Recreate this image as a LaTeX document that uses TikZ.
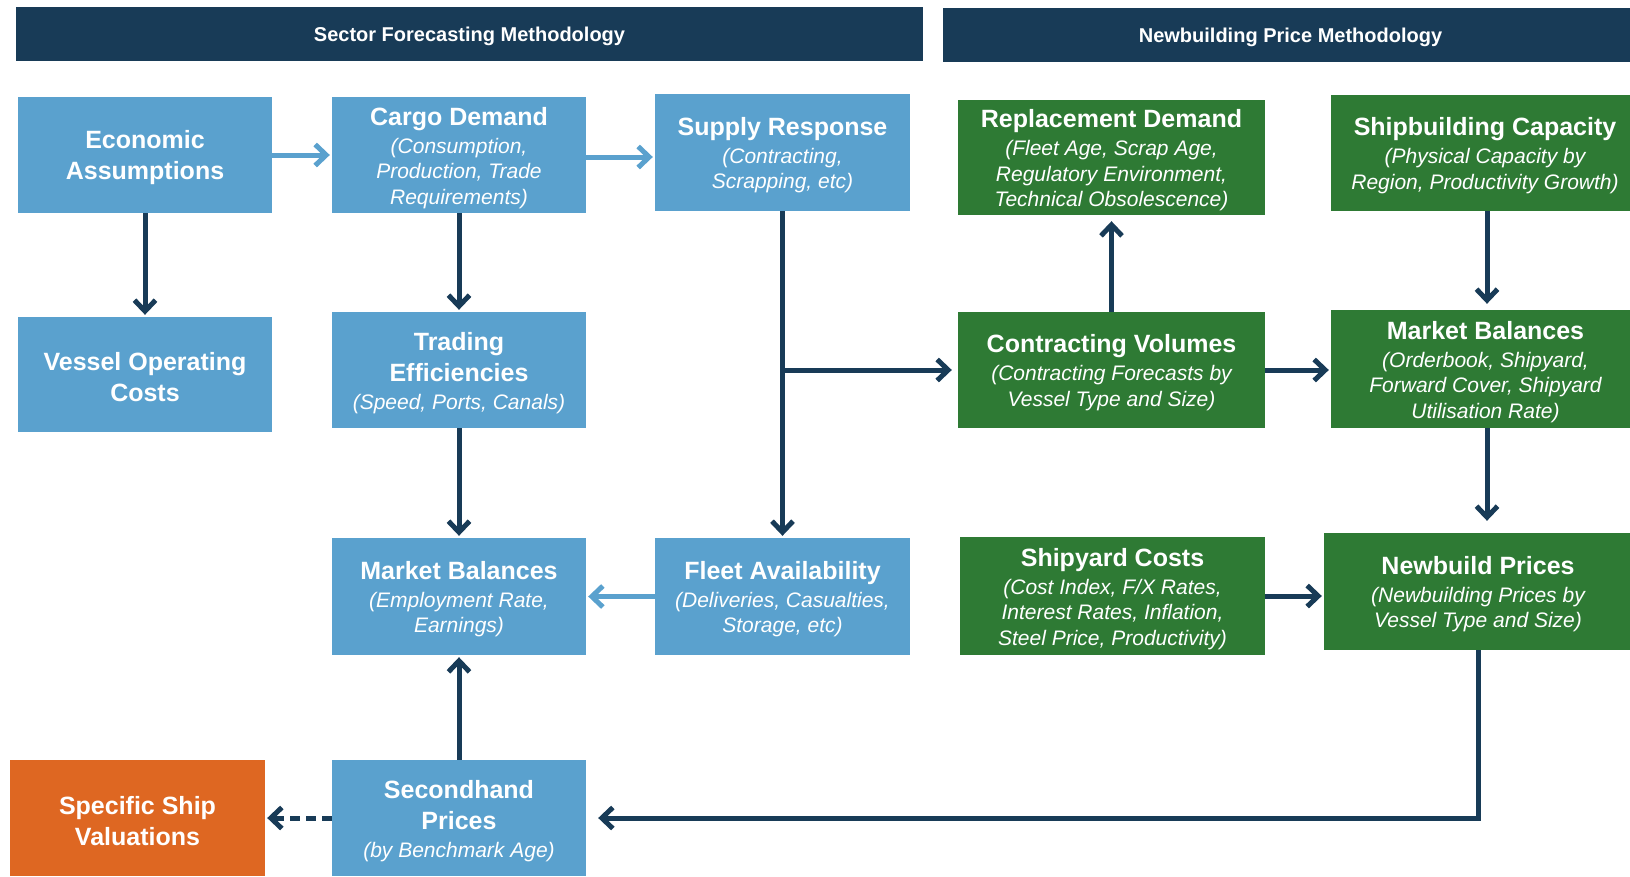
\documentclass[tikz,border=0pt]{standalone}
\usepackage{fontspec}
\setmainfont{Liberation Sans}
\usetikzlibrary{arrows.meta,calc}
\definecolor{navy}{RGB}{24,59,87}
\definecolor{lblue}{RGB}{90,161,206}
\definecolor{dgreen}{RGB}{46,122,52}
\definecolor{orng}{RGB}{222,103,34}
\newcommand\ttl[1]{{\fontsize{25}{30}\selectfont\bfseries #1}}
\newcommand\ftl[1]{{\fontsize{25}{30}\selectfont\bfseries\rule{0pt}{23.5pt}#1}}
\newcommand\sbt[1]{{\fontsize{21}{25.5}\selectfont\itshape #1}}
\begin{document}
\begin{tikzpicture}[x=1pt,y=-1pt,
  box/.style={rectangle, inner sep=0pt, text=white, align=center,
    font=\fontsize{21}{25.5}\selectfont, minimum height=116pt},
  bluebox/.style={box, fill=lblue, minimum width=254pt},
  greenbox/.style={box, fill=dgreen, minimum width=307pt},
  orangebox/.style={box, fill=orng, minimum width=255pt},
  header/.style={rectangle, inner sep=0pt, fill=navy, text=white,
    font=\fontsize{20}{24}\selectfont\bfseries, minimum height=54pt},
  darr/.style={draw=navy, line width=5pt, -{Straight Barb[length=11pt,width=21pt]}, shorten >=2pt},
  larr/.style={draw=lblue, line width=5pt, -{Straight Barb[length=11pt,width=21pt]}, shorten >=2pt},
  dasharr/.style={darr, dash pattern=on 10pt off 6pt}]
\useasboundingbox (0,0) rectangle (1630,876);
% headers
\node[header, minimum width=907pt] (h1) at (469.5,34) {\rule{0pt}{19pt}Sector Forecasting Methodology};
\node[header, minimum width=695pt] (h2) at (1290.5,35) {\rule{0pt}{19pt}Newbuilding Price Methodology};
% row 1
\node[bluebox] (ea) at (145,155) {\ftl{Economic}\\[5.5pt]\ttl{Assumptions}};
\node[bluebox] (cd) at (459,155) {\ftl{Cargo Demand}\\[2.5pt]\sbt{(Consumption,}\\\sbt{Production, Trade}\\\sbt{Requirements)}};
\node[bluebox, minimum width=255pt, minimum height=117pt] (sr) at (782.5,152.5) {\ftl{Supply Response}\\[2.5pt]\sbt{(Contracting,}\\\sbt{Scrapping, etc)}};
\node[greenbox, minimum height=115pt] (rd) at (1111.5,157.5) {\ftl{Replacement Demand}\\[2.5pt]\sbt{(Fleet Age, Scrap Age,}\\\sbt{Regulatory Environment,}\\\sbt{Technical Obsolescence)}};
\node[greenbox, minimum width=308pt] (sc) at (1485,153) {\ftl{Shipbuilding Capacity}\\[2.5pt]\sbt{(Physical Capacity by}\\\sbt{Region, Productivity Growth)}};
% row 2
\node[bluebox, minimum height=115pt] (voc) at (145,374.5) {\ftl{Vessel Operating}\\[5.5pt]\ttl{Costs}};
\node[bluebox] (te) at (459,370) {\ftl{Trading}\\[5.5pt]\ttl{Efficiencies}\\[2.5pt]\sbt{(Speed, Ports, Canals)}};
\node[greenbox] (cv) at (1111.5,370) {\ftl{Contracting Volumes}\\[2.5pt]\sbt{(Contracting Forecasts by}\\\sbt{Vessel Type and Size)}};
\node[greenbox, minimum width=309pt, minimum height=118pt] (mbg) at (1485.5,369) {\ftl{Market Balances}\\[2.5pt]\sbt{(Orderbook, Shipyard,}\\\sbt{Forward Cover, Shipyard}\\\sbt{Utilisation Rate)}};
% row 3
\node[bluebox, minimum height=117pt] (mbb) at (459,596.5) {\ftl{Market Balances}\\[2.5pt]\sbt{(Employment Rate,}\\\sbt{Earnings)}};
\node[bluebox, minimum width=255pt, minimum height=117pt] (fa) at (782.5,596.5) {\ftl{Fleet Availability}\\[2.5pt]\sbt{(Deliveries, Casualties,}\\\sbt{Storage, etc)}};
\node[greenbox, minimum width=305pt, minimum height=118pt] (syc) at (1112.5,596) {\ftl{Shipyard Costs}\\[2.5pt]\sbt{(Cost Index, F/X Rates,}\\\sbt{Interest Rates, Inflation,}\\\sbt{Steel Price, Productivity)}};
\node[greenbox, minimum width=308pt, minimum height=117pt] (np) at (1478,591.5) {\ftl{Newbuild Prices}\\[2.5pt]\sbt{(Newbuilding Prices by}\\\sbt{Vessel Type and Size)}};
% row 4
\node[orangebox] (ssv) at (137.5,818) {\ftl{Specific Ship}\\[5.5pt]\ttl{Valuations}};
\node[bluebox] (sp) at (459,818) {\ftl{Secondhand}\\[5.5pt]\ttl{Prices}\\[2.5pt]\sbt{(by Benchmark Age)}};
% connectors
\draw[larr] (ea.east) -- (cd.west);
\draw[larr] ([yshift=-2pt]cd.east) -- ([yshift=-2pt]cd.east -| sr.west);
\draw[darr] (ea.south) -- (voc.north);
\draw[darr] (cd.south) -- (te.north);
\draw[darr] (te.south) -- (mbb.north);
\draw[darr] (sr.south) -- (fa.north);
\coordinate (br) at (sr.south |- cv.west);
\draw[darr, shorten >=6pt] (br) -- (cv.west);
\draw[larr] (fa.west) -- (mbb.east);
\draw[darr] (sp.north) -- (mbb.south);
\draw[darr, shorten >=6pt] (cv.north) -- (rd.south);
\draw[darr, shorten >=6pt] ([xshift=2pt]sc.south) -- ([xshift=2pt]sc.south |- mbg.north);
\draw[darr] (cv.east) -- (cv.east -| mbg.west);
\draw[darr, shorten >=12pt] ([xshift=1.5pt]mbg.south) -- ([xshift=1.5pt]mbg.south |- np.north);
\draw[darr] (syc.east) -- (syc.east -| np.west);
\draw[darr, shorten >=12pt] (np.south) |- (sp.east);
\draw[dasharr] (sp.west) -- (ssv.east);
\end{tikzpicture}
\end{document}
